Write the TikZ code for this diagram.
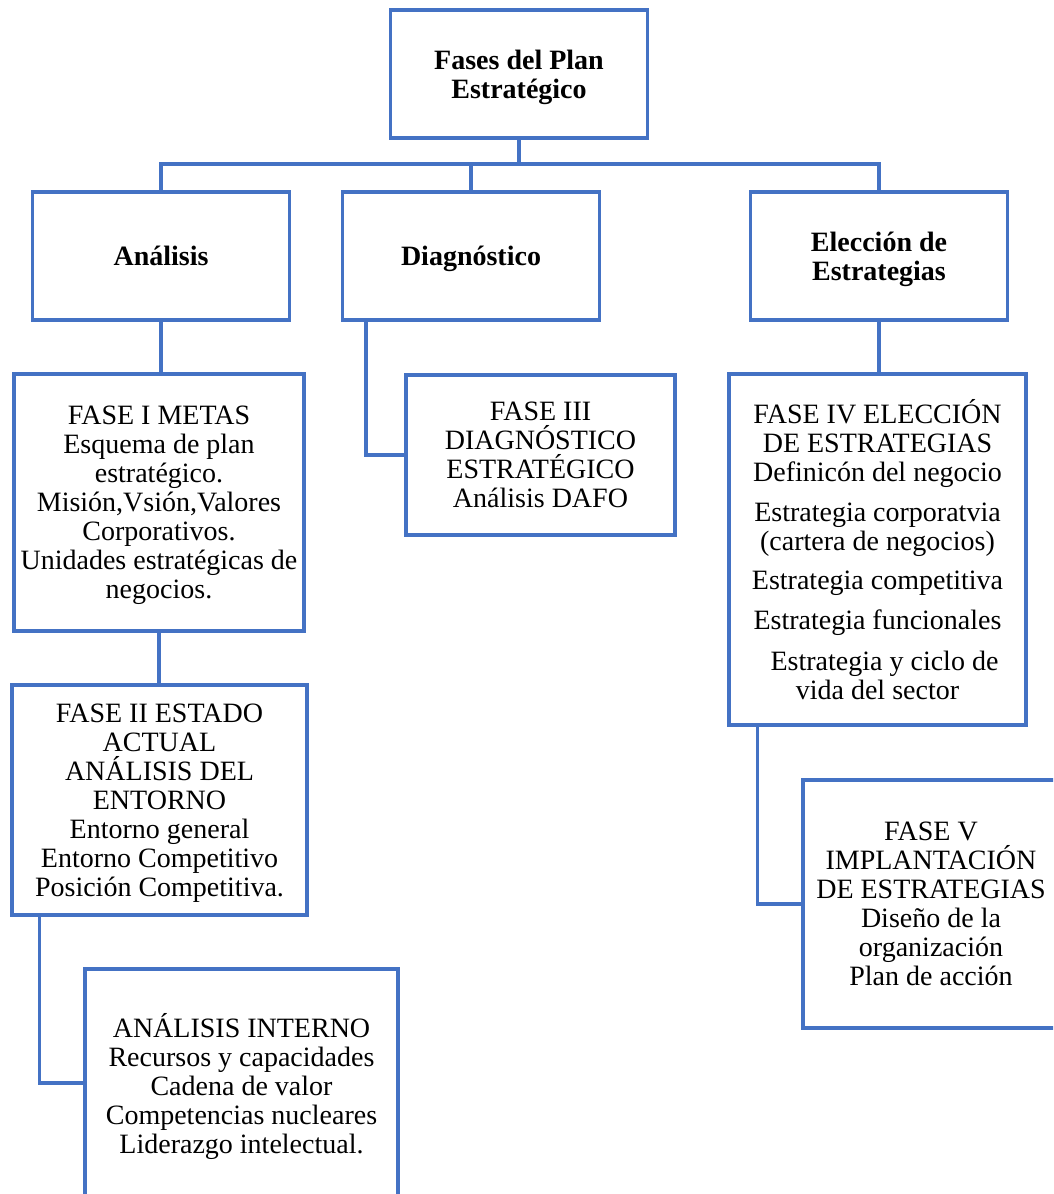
\documentclass[tikz,border=0pt]{standalone}
\usepackage{fontspec}
\setmainfont{Liberation Serif}
\definecolor{accent}{RGB}{68,114,196}
\begin{document}
\begin{tikzpicture}[x=1pt,y=-1pt,
  box/.style={draw=accent, line width=3.1pt, fill=white, inner sep=0pt,
    align=center, text depth=0pt, font=\fontsize{28}{29}\selectfont},
  head/.style={box, font=\fontsize{28}{29}\selectfont\bfseries,
    minimum width=257pt, minimum height=128pt},
  link/.style={draw=accent, line width=3.1pt}]
\useasboundingbox (0,0) rectangle (1053,1194);
\clip (0,0) rectangle (1053,1194);

% top level
\node[head] (top) at (519,74) {Fases del Plan\\Estratégico};

% second level
\node[head] (ana)  at (161,256) {Análisis};
\node[head] (diag) at (471,256) {Diagnóstico};
\node[head] (elec) at (879,256) {Elección de\\Estrategias};

% phases
\node[box, minimum width=290pt, minimum height=257pt] (f1) at (159,502.5)
  {FASE I METAS\\Esquema de plan\\estratégico.\\Misión,Vsión,Valores\\Corporativos.\\Unidades estratégicas de\\negocios.};
\node[box, minimum width=295pt, minimum height=230pt] (f2) at (159.5,800)
  {FASE II ESTADO\\ACTUAL\\ANÁLISIS DEL\\ENTORNO\\Entorno general\\Entorno Competitivo\\Posición Competitiva.};
\node[box, minimum width=313pt, minimum height=228pt] (fint) at (241.5,1083)
  {ANÁLISIS INTERNO\\Recursos y capacidades\\Cadena de valor\\Competencias nucleares\\Liderazgo intelectual.};
\node[box, minimum width=269pt, minimum height=160pt] (f3) at (540.5,455)
  {FASE III\\DIAGNÓSTICO\\ESTRATÉGICO\\Análisis DAFO};
\node[box, minimum width=297pt, minimum height=351pt] (f4) at (877.5,549.5)
  {FASE IV ELECCIÓN\\DE ESTRATEGIAS\\Definicón del negocio\\[11pt]
   Estrategia corporatvia\\(cartera de negocios)\\[10pt]
   Estrategia competitiva\\[11pt]Estrategia funcionales\\[12pt]
   \hspace*{14pt}Estrategia y ciclo de\\vida del sector};
\node[box, minimum width=256pt, minimum height=248pt] (f5) at (931,904)
  {FASE V\\IMPLANTACIÓN\\DE ESTRATEGIAS\\Diseño de la\\organización\\Plan de acción};

% connectors
\coordinate (bus) at (519,164);
\draw[link] (top.south) -- (bus);
\draw[link] (ana.north) |- (bus) -| (elec.north);
\draw[link] (diag.north) -- (diag.north |- bus);
\draw[link] (ana.south) -- (ana.south |- f1.north);
\draw[link] (f1.south) -- (f1.south |- f2.north);
\draw[link] ([xshift=29pt]f2.south west) |- (fint.west);
\draw[link] ([xshift=25pt]diag.south west) |- (f3.west);
\draw[link] (elec.south) -- (elec.south |- f4.north);
\draw[link] ([xshift=30pt]f4.south west) |- (f5.west);
\end{tikzpicture}
\end{document}
